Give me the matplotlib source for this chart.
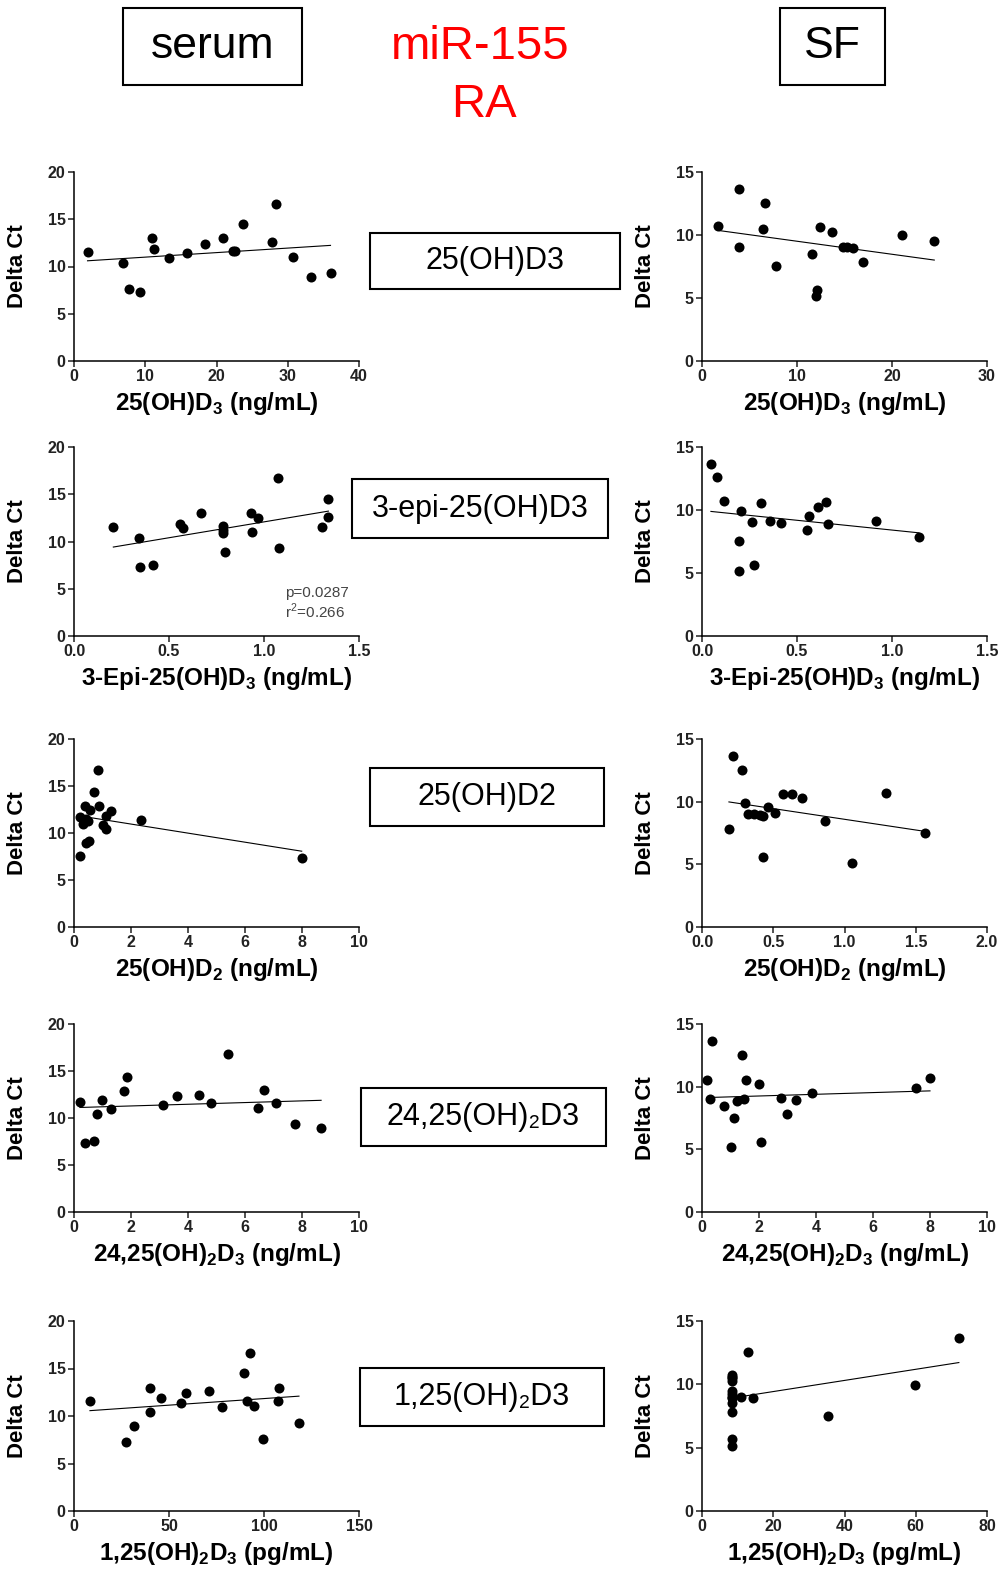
import matplotlib
matplotlib.use('Agg')
import matplotlib.pyplot as plt
from matplotlib.patches import Rectangle
from matplotlib.ticker import FormatStrFormatter
import numpy as np

plt.rcParams['font.family'] = ['Liberation Sans', 'DejaVu Sans']
plt.rcParams['mathtext.fontset'] = 'custom'
plt.rcParams['mathtext.rm'] = 'Liberation Sans'
plt.rcParams['mathtext.bf'] = 'Liberation Sans:bold'

# ---- data ----
# serum
serum_d3_x = [1.9, 6.9, 7.75, 9.25, 10.9, 11.2, 13.3, 15.9, 18.4, 20.9, 22.3, 22.6, 23.7, 27.85, 28.3, 30.8, 33.2, 36.0]
serum_d3_y = [11.55, 10.4, 7.6, 7.3, 13.0, 11.85, 10.95, 11.4, 12.4, 13.0, 11.6, 11.6, 14.45, 12.6, 16.65, 11.0, 8.9, 9.3]

serum_epi_x = [0.207, 0.34, 0.345, 0.417, 0.557, 0.575, 0.671, 0.783, 0.783, 0.783, 0.794, 0.934, 0.971, 0.937, 1.074, 1.079, 1.307, 1.339, 1.335]
serum_epi_y = [11.53, 10.4, 7.27, 7.55, 11.85, 11.4, 13.0, 11.64, 11.25, 10.9, 8.89, 12.98, 12.45, 11.04, 16.68, 9.31, 11.53, 14.53, 12.6]

serum_d2_x = [0.21, 0.21, 0.30, 0.39, 0.42, 0.42, 0.48, 0.53, 0.56, 0.71, 0.84, 0.88, 1.03, 1.12, 1.14, 1.29, 2.36, 7.99]
serum_d2_y = [7.59, 11.67, 11.0, 12.84, 11.5, 8.9, 11.3, 9.1, 12.5, 14.4, 16.7, 12.9, 10.8, 10.4, 11.8, 12.3, 11.4, 7.3]

serum_2425_x = [0.21, 0.39, 0.70, 0.79, 0.97, 1.30, 1.74, 1.86, 3.12, 3.61, 4.37, 4.82, 5.40, 6.44, 6.66, 7.10, 7.77, 8.67]
serum_2425_y = [11.65, 7.33, 7.58, 10.44, 11.9, 10.97, 12.9, 14.4, 11.4, 12.3, 12.5, 11.6, 16.8, 11.1, 13.0, 11.6, 9.4, 8.9]

serum_125_x = [8.4, 27.4, 31.5, 40.2, 40.2, 45.8, 56.1, 59.1, 71.0, 78.0, 89.3, 92.7, 90.9, 94.6, 99.7, 107.2, 108.0, 118.4]
serum_125_y = [11.56, 7.28, 8.9, 12.97, 10.37, 11.88, 11.35, 12.44, 12.6, 10.93, 14.48, 16.63, 11.6, 11.04, 7.6, 11.6, 12.97, 9.3]

# synovial fluid
sf_d3_x = [1.65, 3.9, 3.9, 6.4, 6.67, 7.8, 11.63, 12.15, 11.98, 12.43, 13.66, 14.8, 15.24, 15.87, 16.9, 21.1, 24.45]
sf_d3_y = [10.71, 13.68, 9.02, 10.5, 12.54, 7.51, 8.47, 5.63, 5.16, 10.6, 10.26, 9.02, 9.02, 8.94, 7.88, 9.97, 9.52]

sf_epi_x = [0.047, 0.081, 0.116, 0.205, 0.261, 0.196, 0.193, 0.275, 0.308, 0.357, 0.415, 0.552, 0.564, 0.613, 0.652, 0.664, 0.915, 1.142]
sf_epi_y = [13.68, 12.58, 10.7, 9.94, 9.02, 7.51, 5.17, 5.62, 10.55, 9.1, 8.99, 8.44, 9.52, 10.26, 10.6, 8.91, 9.1, 7.86]

sf_d2_x = [0.189, 0.217, 0.28, 0.30, 0.325, 0.367, 0.407, 0.43, 0.425, 0.465, 0.51, 0.57, 0.633, 0.699, 0.86, 1.056, 1.294, 1.563]
sf_d2_y = [7.85, 13.68, 12.56, 9.91, 9.04, 9.04, 8.96, 8.85, 5.59, 9.54, 9.12, 10.58, 10.58, 10.28, 8.45, 5.14, 10.68, 7.5]

sf_2425_x = [0.16, 0.35, 0.28, 0.76, 1.12, 1.02, 1.23, 1.40, 1.46, 1.54, 2.01, 2.06, 2.77, 2.98, 3.31, 3.87, 7.52, 8.0]
sf_2425_y = [10.53, 13.63, 9.0, 8.42, 7.47, 5.16, 8.87, 12.53, 9.03, 10.55, 10.24, 5.58, 9.08, 7.84, 8.97, 9.5, 9.92, 10.68]

sf_125_x = [8.4, 8.4, 8.4, 8.4, 8.4, 8.4, 8.4, 8.4, 8.4, 8.4, 8.4, 8.4, 11.0, 12.8, 14.4, 35.5, 59.9, 72.1]
sf_125_y = [10.74, 10.6, 10.47, 10.26, 9.5, 9.24, 9.0, 8.5, 7.84, 5.66, 5.16, 8.9, 9.0, 12.53, 8.9, 7.53, 9.92, 13.63]

xlabels = [r'25(OH)D$_\mathbf{3}$ (ng/mL)',
           r'3-Epi-25(OH)D$_\mathbf{3}$ (ng/mL)',
           r'25(OH)D$_\mathbf{2}$ (ng/mL)',
           r'24,25(OH)$_\mathbf{2}$D$_\mathbf{3}$ (ng/mL)',
           r'1,25(OH)$_\mathbf{2}$D$_\mathbf{3}$ (pg/mL)']
box_labels = ['25(OH)D3', '3-epi-25(OH)D3', '25(OH)D2', '24,25(OH)₂D3', '1,25(OH)₂D3']

W, H = 999, 1573
fig = plt.figure(figsize=(W / 100, H / 100), dpi=100)


def px_axes(x0, y0, x1, y1):
    return fig.add_axes([x0 / W, 1 - y1 / H, (x1 - x0) / W, (y1 - y0) / H])


def px_box(x0, y0, x1, y1, text, size, color='black'):
    fig.add_artist(Rectangle((x0 / W, 1 - y1 / H), (x1 - x0) / W, (y1 - y0) / H,
                             transform=fig.transFigure, fill=False, lw=1.5, ec='black'))
    fig.text((x0 + x1) / 2 / W, 1 - (y0 + y1) / 2 / H, text, size=size, color=color,
             ha='center', va='center')


def panel(ax, x, y, xmax, xstep, ymax, xlabel, fmt=None):
    ax.scatter(x, y, s=52, c='black', linewidths=0, zorder=3, clip_on=False)
    k, b = np.polyfit(x, y, 1)  # linear fit line
    xs = np.array([min(x), max(x)])
    ax.plot(xs, k * xs + b, color='black', lw=0.8)
    ax.set_xlim(0, xmax)
    ax.set_ylim(0, ymax)
    ax.set_xticks(np.arange(0, xmax + xstep / 2, xstep))
    ax.set_yticks(np.arange(0, ymax + 1, 5))
    if fmt:
        ax.xaxis.set_major_formatter(FormatStrFormatter(fmt))
    for s in ['top', 'right']:
        ax.spines[s].set_visible(False)
    for s in ['left', 'bottom']:
        ax.spines[s].set_linewidth(1.1)
    ax.tick_params(direction='out', length=4, width=1.1, labelsize=11.5, pad=2, colors='#222222')
    for lab in ax.get_xticklabels() + ax.get_yticklabels():
        lab.set_fontweight('bold')
    ax.set_ylabel('Delta Ct', fontsize=16, fontweight='bold')
    ax.yaxis.set_label_coords(-0.16, 0.5)
    ax.set_xlabel(xlabel, fontsize=17.5, fontweight='bold', va='center')
    ax.xaxis.set_label_coords(0.5, -0.225)


rows = [(172, 361), (447, 636), (739, 927), (1024, 1212), (1321, 1511)]
serum = [(serum_d3_x, serum_d3_y, 40, 10, None),
         (serum_epi_x, serum_epi_y, 1.5, 0.5, '%.1f'),
         (serum_d2_x, serum_d2_y, 10, 2, None),
         (serum_2425_x, serum_2425_y, 10, 2, None),
         (serum_125_x, serum_125_y, 150, 50, None)]
sf = [(sf_d3_x, sf_d3_y, 30, 10, None),
      (sf_epi_x, sf_epi_y, 1.5, 0.5, '%.1f'),
      (sf_d2_x, sf_d2_y, 2.0, 0.5, '%.1f'),
      (sf_2425_x, sf_2425_y, 10, 2, None),
      (sf_125_x, sf_125_y, 80, 20, None)]

axes_l = []
for i, (top, bot) in enumerate(rows):
    x, y, xm, xs_, fmt = serum[i]
    ax = px_axes(74, top, 359, bot)
    panel(ax, x, y, xm, xs_, 20, xlabels[i], fmt)
    axes_l.append(ax)
    x, y, xm, xs_, fmt = sf[i]
    ax = px_axes(702, top, 987, bot)
    panel(ax, x, y, xm, xs_, 15, xlabels[i], fmt)

# stats for serum 3-epi
axes_l[1].text(1.11, 4.6, 'p=0.0287', fontsize=11, color='#444444', va='center')
axes_l[1].text(1.11, 2.6, 'r$^2$=0.266', fontsize=11, color='#444444', va='center')

# middle labels
boxes = [(370, 233, 620, 289), (352, 479, 608, 538), (370, 768, 604, 826),
         (361, 1088, 606, 1146), (360, 1368, 604, 1426)]
for (x0, y0, x1, y1), t in zip(boxes, box_labels):
    px_box(x0, y0, x1, y1, t, 22)

# header
px_box(123, 8, 302, 85, 'serum', 32)
px_box(780, 8, 885, 85, 'SF', 32)
fig.text(480 / W, 1 - 47 / H, 'miR-155', size=34, color='#ff0000', ha='center', va='center')
fig.text(484 / W, 1 - 105 / H, 'RA', size=34, color='#ff0000', ha='center', va='center')

fig.savefig('out.png', dpi=100)
